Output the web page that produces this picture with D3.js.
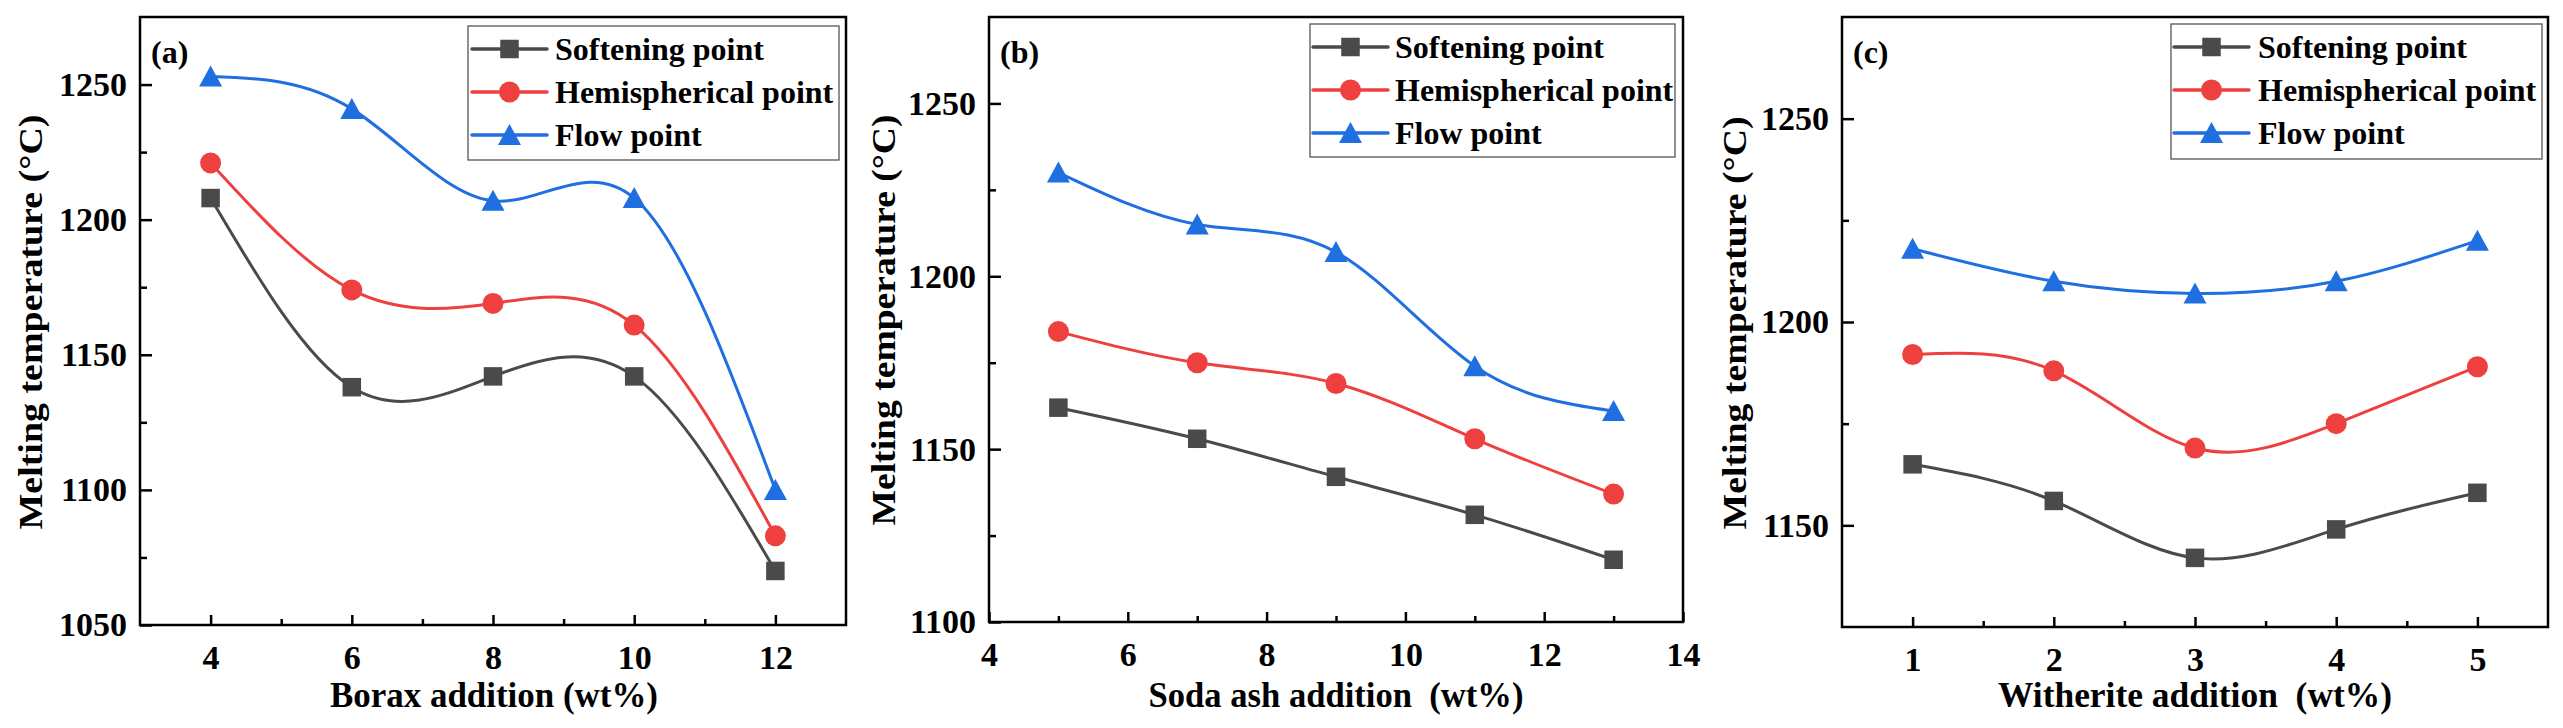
<!DOCTYPE html>
<html lang="en">
<head>
<meta charset="UTF-8">
<script src="https://d3js.org/d3.v7.min.js"></script>
<title>Melting temperature</title>
<style>
  body{ margin:0; background:#fff; }
  svg{ display:block; }
  text{ font-family:"Liberation Serif","Times New Roman",serif; font-weight:bold; fill:#000; }
</style>
</head>
<body>
<svg id="chart" width="2563" height="728"></svg>
<script>
// series names + colours
var seriesNames = ["Softening point", "Hemispherical point", "Flow point"];
var seriesColors = ["#4a4a4a", "#ef4040", "#1f6fe0"];
var seriesShapes = ["square", "circle", "triangle"];

// (a) borax
var boraxX = [4, 6, 8, 10, 12];
var boraxSoft = [1208, 1138, 1142, 1142, 1070];
var boraxHemi = [1221, 1174, 1169, 1161, 1083];
var boraxFlow = [1253, 1241, 1207, 1208, 1100];

// (b) soda ash
var sodaX = [5, 7, 9, 11, 13];
var sodaSoft = [1162, 1153, 1142, 1131, 1118];
var sodaHemi = [1184, 1175, 1169, 1153, 1137];
var sodaFlow = [1230, 1215, 1207, 1174, 1161];

// (c) witherite
var withX = [1, 2, 3, 4, 5];
var withSoft = [1165, 1156, 1142, 1149, 1158];
var withHemi = [1192, 1188, 1169, 1175, 1189];
var withFlow = [1218, 1210, 1207, 1210, 1220];

// ticks
var boraxTicks = [4, 6, 8, 10, 12], boraxMinor = [5, 7, 9, 11];
var sodaTicks = [4, 6, 8, 10, 12, 14], sodaMinor = [5, 7, 9, 11, 13];
var withTicks = [1, 2, 3, 4, 5], withMinor = [1.5, 2.5, 3.5, 4.5];
var yTicksA = [1050, 1100, 1150, 1200, 1250], yMinorA = [1075, 1125, 1175, 1225];
var yTicksB = [1100, 1150, 1200, 1250], yMinorB = [1125, 1175, 1225];
var yTicksC = [1150, 1200, 1250], yMinorC = [1175, 1225];

var panels = [
  {label:"(a)", xt:"Borax addition (wt%)", x:boraxX, ys:[boraxSoft, boraxHemi, boraxFlow],
   left:140, right:846, top:17, bottom:625, xd:[3,13], yd:[1050,1275],
   xTicks:boraxTicks, xMinor:boraxMinor, yTicks:yTicksA, yMinor:yMinorA,
   xtCenter:494, xtLen:328, ytX:42, ytCenter:322, ytLen:415,
   leg:{x0:468, x1:839, y0:26, y1:160, lx0:472, lx1:547, tx:555, rows:[49,92,135]}},
  {label:"(b)", xt:"Soda ash addition\u00a0 (wt%)", x:sodaX, ys:[sodaSoft, sodaHemi, sodaFlow],
   left:989, right:1683, top:17, bottom:622, xd:[4,14], yd:[1100,1275],
   xTicks:sodaTicks, xMinor:sodaMinor, yTicks:yTicksB, yMinor:yMinorB,
   xtCenter:1336, xtLen:375, ytX:895, ytCenter:320, ytLen:411,
   leg:{x0:1310, x1:1675, y0:24, y1:157, lx0:1313, lx1:1388, tx:1395, rows:[47,90,133]}},
  {label:"(c)", xt:"Witherite addition\u00a0 (wt%)", x:withX, ys:[withSoft, withHemi, withFlow],
   left:1842, right:2548, top:17, bottom:627, xd:[0.5,5.5], yd:[1125,1275],
   xTicks:withTicks, xMinor:withMinor, yTicks:yTicksC, yMinor:yMinorC,
   xtCenter:2195, xtLen:394, ytX:1746, ytCenter:323, ytLen:413,
   leg:{x0:2171, x1:2542, y0:24, y1:159, lx0:2174, lx1:2249, tx:2258, rows:[47,90,133]}}
];

var svg = d3.select("#chart");

function marker(g, shape, color, cx, cy){
  if(shape == "square"){
    g.append("rect").attr("x", cx-9.25).attr("y", cy-9.25)
      .attr("width", 18.5).attr("height", 18.5).attr("fill", color);
  } else if(shape == "circle"){
    g.append("circle").attr("cx", cx).attr("cy", cy).attr("r", 10.5).attr("fill", color);
  } else {
    g.append("path")
      .attr("d", "M"+cx+","+(cy-11)+"L"+(cx+11.5)+","+(cy+10)+"L"+(cx-11.5)+","+(cy+10)+"Z")
      .attr("fill", color);
  }
}

panels.forEach(function(p){
  var g = svg.append("g");
  var x = d3.scaleLinear().domain(p.xd).range([p.left, p.right]);
  var y = d3.scaleLinear().domain(p.yd).range([p.bottom, p.top]);

  // ticks (inward)
  var xa = g.append("g").attr("transform", "translate(0,"+p.bottom+")")
    .call(d3.axisBottom(x).tickValues(p.xTicks).tickSizeInner(-10).tickSizeOuter(0).tickFormat(d3.format("d")));
  xa.selectAll("text").attr("y", 44).attr("dy", 0).style("font-size", "34px");
  g.append("g").attr("transform", "translate(0,"+p.bottom+")")
    .call(d3.axisBottom(x).tickValues(p.xMinor).tickSizeInner(-6).tickSizeOuter(0).tickFormat(""));

  var ya = g.append("g").attr("transform", "translate("+p.left+",0)")
    .call(d3.axisLeft(y).tickValues(p.yTicks).tickSizeInner(-12).tickSizeOuter(0).tickPadding(13).tickFormat(d3.format("d")));
  ya.selectAll("text").style("font-size", "34px");
  g.append("g").attr("transform", "translate("+p.left+",0)")
    .call(d3.axisLeft(y).tickValues(p.yMinor).tickSizeInner(-7).tickSizeOuter(0).tickFormat(""));

  g.selectAll(".tick line").attr("stroke", "#000").attr("stroke-width", 2.5);
  g.selectAll(".domain").remove();

  // frame
  g.append("rect").attr("x", p.left).attr("y", p.top)
    .attr("width", p.right-p.left).attr("height", p.bottom-p.top)
    .attr("fill", "none").attr("stroke", "#000").attr("stroke-width", 2.5);

  // series
  var line = d3.line().x(function(d){ return x(d[0]); }).y(function(d){ return y(d[1]); })
    .curve(d3.curveNatural);
  p.ys.forEach(function(vals, si){
    var pts = p.x.map(function(v, i){ return [v, vals[i]]; });
    g.append("path").attr("d", line(pts)).attr("fill", "none")
      .attr("stroke", seriesColors[si]).attr("stroke-width", 3);
    pts.forEach(function(d){ marker(g, seriesShapes[si], seriesColors[si], x(d[0]), y(d[1])); });
  });

  // legend
  var L = p.leg;
  g.append("rect").attr("x", L.x0).attr("y", L.y0).attr("width", L.x1-L.x0).attr("height", L.y1-L.y0)
    .attr("fill", "#fff").attr("stroke", "#555").attr("stroke-width", 1.3);
  seriesNames.forEach(function(n, si){
    var ry = L.rows[si];
    g.append("line").attr("x1", L.lx0).attr("x2", L.lx1).attr("y1", ry).attr("y2", ry)
      .attr("stroke", seriesColors[si]).attr("stroke-width", 3.5).attr("stroke-linecap", "round");
    marker(g, seriesShapes[si], seriesColors[si], (L.lx0+L.lx1)/2, ry);
    g.append("text").attr("x", L.tx).attr("y", ry+11).style("font-size", "32px").text(n);
  });

  // panel label
  g.append("text").attr("x", p.left+11).attr("y", 63).style("font-size", "32px").text(p.label);

  // axis titles
  g.append("text").attr("x", p.xtCenter).attr("y", 707).attr("text-anchor", "middle")
    .attr("textLength", p.xtLen).attr("lengthAdjust", "spacingAndGlyphs")
    .style("font-size", "36px").text(p.xt);
  g.append("text").attr("transform", "translate("+p.ytX+","+p.ytCenter+") rotate(-90)")
    .attr("text-anchor", "middle")
    .attr("textLength", p.ytLen).attr("lengthAdjust", "spacingAndGlyphs")
    .style("font-size", "33px").text("Melting temperature (\u00b0C)");
});
</script>
</body>
</html>
